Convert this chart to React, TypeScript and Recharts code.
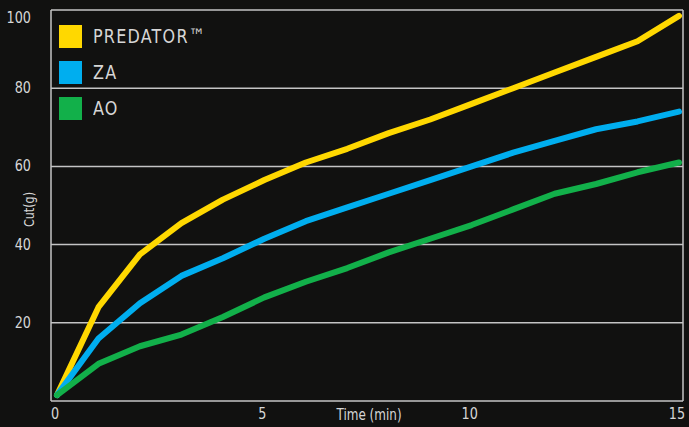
import { LineChart, Line, XAxis, YAxis, CartesianGrid } from 'recharts';

const minutes = [0, 1, 2, 3, 4, 5, 6, 7, 8, 9, 10, 11, 12, 13, 14, 15];
const predator = [1.5, 24, 37.5, 45.5, 51.5, 56.5, 61, 64.5, 68.5, 72, 76, 80, 84, 88, 92, 98.5];
const za = [1.5, 16, 25, 32, 36.5, 41.5, 46, 49.5, 53, 56.5, 60, 63.5, 66.5, 69.5, 71.5, 74];
const ao = [1.5, 9.5, 14, 17, 21.5, 26.5, 30.5, 34, 38, 41.5, 45, 49, 53, 55.5, 58.5, 61];
const xTicks = [0, 5, 10, 15];
const yTicks = [0, 20, 40, 60, 80, 100];

const series = [
  { key: 'predator', name: 'PREDATOR™', color: '#FFD800' },
  { key: 'za', name: 'ZA', color: '#00AEEF' },
  { key: 'ao', name: 'AO', color: '#12B04A' },
];

const data = minutes.map((t, i) => ({ t, predator: predator[i], za: za[i], ao: ao[i] }));

const font = '"DejaVu Sans", sans-serif';
const textColor = '#d6d6d6';
const squeeze = 0.8; // no condensed font available, squash horizontally

const YTick = ({ x, y, payload }: any) => {
  if (payload.value === 0) return null;
  const dy = payload.value === 100 ? 13 : 5;
  return (
    <g transform={`translate(${x - 12},${y + dy}) scale(${squeeze},1)`}>
      <text textAnchor="end" fill={textColor} fontSize={16} fontFamily={font}>
        {payload.value}
      </text>
    </g>
  );
};

const XTick = ({ x, y, payload }: any) => (
  <g transform={`translate(${x - 2},${y + 10}) scale(${squeeze},1)`}>
    <text textAnchor="middle" fill={textColor} fontSize={16} fontFamily={font}>
      {payload.value}
    </text>
  </g>
);

const XLabel = ({ viewBox }: any) => (
  <g transform={`translate(${viewBox.x + viewBox.width / 2 + 2},${viewBox.y + 19}) scale(${squeeze},1)`}>
    <text textAnchor="middle" fill={textColor} fontSize={15} fontFamily={font}>
      Time (min)
    </text>
  </g>
);

const YLabel = ({ viewBox }: any) => (
  <g transform={`translate(34,${viewBox.y + viewBox.height / 2 + 4}) rotate(-90) scale(${squeeze},1)`}>
    <text textAnchor="middle" fill={textColor} fontSize={14} fontFamily={font}>
      Cut(g)
    </text>
  </g>
);

// legend drawn over the plot, top-left corner
const LegendBox = () => (
  <div style={{ position: 'absolute', left: 59, top: 18, fontFamily: font }}>
    {series.map((s) => (
      <div key={s.key} style={{ display: 'flex', alignItems: 'center', height: 36 }}>
        <div style={{ width: 23, height: 23, background: s.color }} />
        <span
          style={{
            marginLeft: 11,
            color: textColor,
            fontSize: 20,
            letterSpacing: 1.5,
            display: 'inline-block',
            transform: `scaleX(${squeeze})`,
            transformOrigin: 'left center',
          }}
        >
          {s.name}
        </span>
      </div>
    ))}
  </div>
);

export default function App() {
  return (
    <div style={{ position: 'absolute', left: 0, top: 0, width: 689, height: 427, background: '#111110' }}>
      <LineChart width={689} height={427} data={data} margin={{ top: 10, right: 6, left: 0, bottom: 0 }}>
        <CartesianGrid
          stroke="#c4c4c4"
          strokeWidth={1.5}
          verticalCoordinatesGenerator={({ offset }: any) => [offset.left, offset.left + offset.width]}
        />
        <XAxis
          dataKey="t"
          type="number"
          domain={[0, 15]}
          ticks={xTicks}
          padding={{ left: 6, right: 4 }}
          axisLine={false}
          tickLine={false}
          height={26}
          tick={<XTick />}
          label={<XLabel />}
        />
        <YAxis
          type="number"
          domain={[0, 100]}
          ticks={yTicks}
          axisLine={false}
          tickLine={false}
          width={51}
          tick={<YTick />}
          label={<YLabel />}
        />
        {series.map((s) => (
          <Line
            key={s.key}
            dataKey={s.key}
            name={s.name}
            stroke={s.color}
            strokeWidth={6}
            strokeLinecap="round"
            strokeLinejoin="round"
            dot={false}
            type="linear"
            isAnimationActive={false}
          />
        ))}
      </LineChart>
      <LegendBox />
    </div>
  );
}
